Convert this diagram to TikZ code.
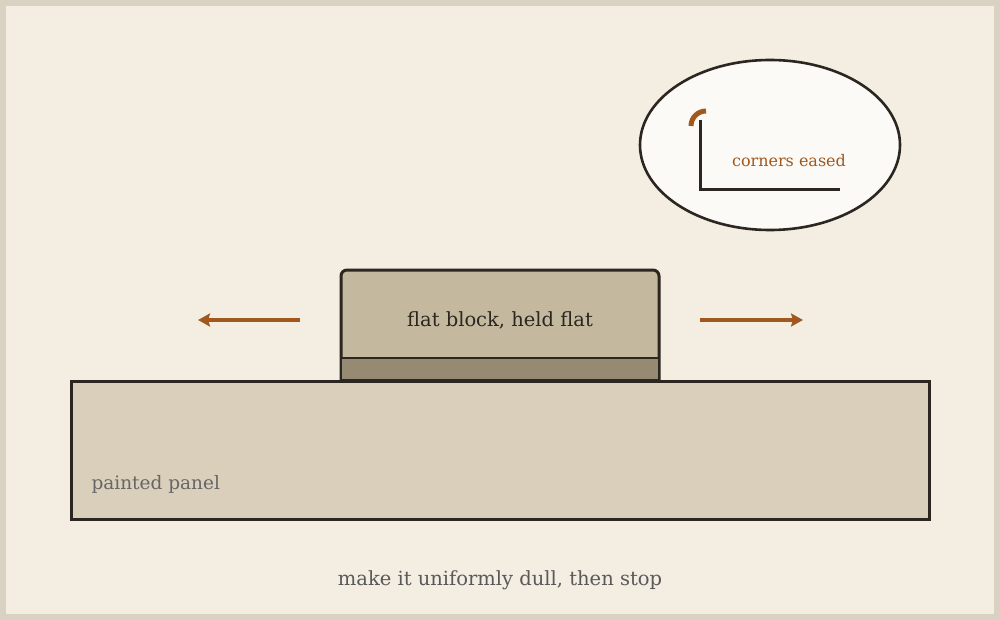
\documentclass[tikz,border=0pt]{standalone}
\usepackage{fontspec}
\setmainfont{DejaVu Serif}
\usetikzlibrary{shapes.geometric,arrows.meta}
\definecolor{orng}{HTML}{A0581E}
\definecolor{bg}{HTML}{F3EDE2}
\definecolor{frame}{HTML}{D9D2C3}
\definecolor{panel}{HTML}{D9CFBB}
\definecolor{blocktop}{HTML}{C4B89F}
\definecolor{blockbot}{HTML}{978A72}
\definecolor{inkc}{HTML}{2B2620}
\begin{document}
\begin{tikzpicture}[x=1pt,y=-1pt,
 ink/.style={draw=inkc, line width=3pt},
 arr/.style={draw=orng, line width=3.2pt, -{Stealth[length=12pt,width=13pt,inset=2pt]}}]
\useasboundingbox (0,0) rectangle (1000,620);
\fill[frame] (0,0) rectangle (1000,620);
\fill[bg] (6,6) rectangle (994,614);
% ellipse
\node[ellipse, minimum width=260pt, minimum height=170pt, draw=inkc, line width=2.6pt, fill=white!70!bg, inner sep=0] (oval) at (770,145) {};
\draw[line width=3pt, inkc] (700,120) -- (700,190) -- (840,190);
\draw[line width=5pt, orng] (691,126) arc (180:270:15);
\node[text=orng, font=\fontsize{16pt}{19pt}\selectfont] (ce) at (789,161) {corners eased};
% panel
\path[ink, fill=panel] (71,381) rectangle (929,519);
\node[text=black!60, font=\fontsize{18.5pt}{22pt}\selectfont, anchor=west] (pp) at (88,484) {painted panel};
% block
\path[ink, fill=blocktop] (341,380) -- (341,276) [rounded corners=6pt] -- (341,270) -- (659,270) [sharp corners] -- (659,380) -- cycle;
\path[draw=inkc, line width=2pt, fill=blockbot] (341,358) rectangle (659,380);
\node[font=\fontsize{19.5pt}{23pt}\selectfont, text=inkc] (blk) at (500,320) {flat block, held flat};
\coordinate (l1) at (300,320); \coordinate (l2) at (198,320);
\coordinate (r1) at (700,320); \coordinate (r2) at (803,320);
\draw[arr] (l1) -- (l2);
\draw[arr] (r1) -- (r2);
\node[text=black!65, font=\fontsize{19.5pt}{23pt}\selectfont] (cap) at (500,580) {make it uniformly dull, then stop};
\end{tikzpicture}
\end{document}
